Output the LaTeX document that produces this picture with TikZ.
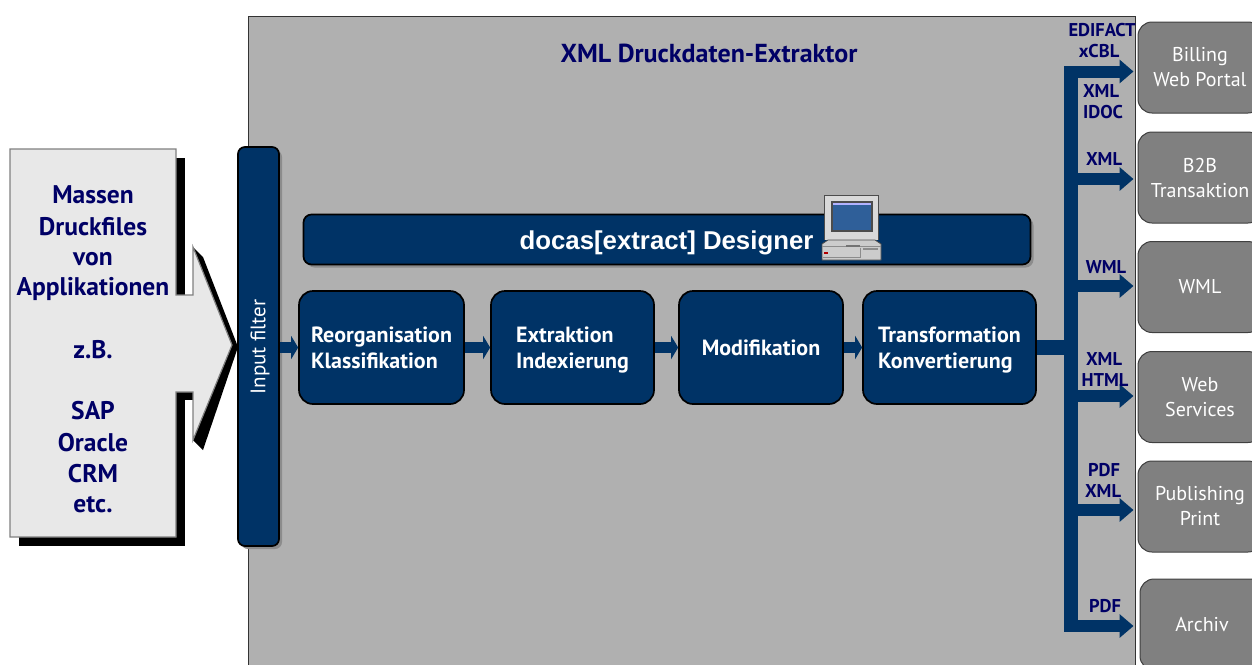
\documentclass[tikz,border=0pt]{standalone}
\usepackage{fontspec}
\setmainfont{PT Sans}
\newfontfamily\arialf{Liberation Sans}
\usetikzlibrary{arrows.meta,shadows,calc}
\definecolor{navyfill}{HTML}{003366}
\definecolor{navytext}{HTML}{000066}
\definecolor{framegray}{HTML}{B0B0B0}
\definecolor{boxgray}{HTML}{808080}
\definecolor{paperlight}{HTML}{E8E8E8}
\definecolor{screenblue}{HTML}{2F5F99}
\newcommand{\fsz}[2]{\fontsize{#1}{#2}\selectfont}
\newcommand{\ls}{\rule[-5.5pt]{0pt}{26pt}}
\tikzset{
  softshadow/.style={drop shadow={shadow xshift=3pt,shadow yshift=-3pt,fill=black!45,opacity=1}},
  navybox/.style={draw=black,line width=1.7pt,fill=navyfill,text=white,inner sep=0pt,
     rounded corners=14pt,align=left,font=\fsz{22}{26}\bfseries},
  outbox/.style={draw=black!75,line width=1pt,fill=boxgray,text=white,inner sep=0pt,
     rounded corners=14pt,minimum width=124pt,minimum height=91pt,align=center,font=\fsz{20}{25}},
  fmtlabel/.style={text=navytext,inner sep=0pt,font=\fsz{18.5}{20}\bfseries},
  leftlabel/.style={text=navytext,inner sep=0pt,font=\fsz{25.5}{28}\bfseries},
  smallflow/.style={draw=navyfill,line width=11pt,-{Triangle[length=7pt,width=23pt]}},
  busflow/.style={draw=navyfill,line width=12pt,-{Triangle[length=14pt,width=23pt]},shorten >=4pt},
}
\begin{document}
\begin{tikzpicture}[x=1pt,y=-1pt]
\useasboundingbox (0,0) rectangle (1252,664);
\clip (0,0) rectangle (1252,664);
% main frame
\draw[draw=black!80,line width=1pt,fill=framegray] (248,16) rectangle (1135,680);
% left document shadow
\fill[black] (176,158) rectangle (185,297);
\fill[black] (193,247) -- (203,257) -- (238,347) -- (203,450) -- (193,440) -- cycle;
\fill[black] (176,392) rectangle (193,400);
\fill[black] (176,400) rectangle (185,546);
\fill[black] (19,537) rectangle (185,546);
% left document
\draw[draw=black!50,line width=1.2pt,fill=paperlight]
  (10,149) -- (176,149) -- (176,295) -- (193,295) -- (193,247) -- (232,345)
  -- (193,440) -- (193,392) -- (176,392) -- (176,537) -- (10,537) -- cycle;
\node[leftlabel] (l1) at (93,195) {Massen};
\node[leftlabel] (l2) at (93,227) {Druckfiles};
\node[leftlabel] (l3) at (93,259) {von};
\node[leftlabel] (l4) at (93,289) {Applikationen};
\node[leftlabel] (l5) at (93,350) {z.B.};
\node[leftlabel] (l6) at (93,411) {SAP};
\node[leftlabel] (l7) at (93,443) {Oracle};
\node[leftlabel] (l8) at (93,474) {CRM};
\node[leftlabel] (l9) at (93,505) {etc.};
% title
\node[text=navytext,inner sep=0pt,font=\fsz{26}{28}\bfseries] (title) at (709,53) {XML Druckdaten-Extraktor};
% input filter
\node[draw=black,line width=1.7pt,fill=navyfill,rounded corners=7pt,minimum width=41pt,minimum height=399pt,inner sep=0pt,softshadow] (filter) at (258.5,346.5) {};
\node[rotate=90,text=white,inner sep=0pt,font=\fsz{21}{22}] (filtertext) at (260,347) {Input filter};
% designer bar
\node[navybox,rounded corners=8pt,minimum width=727pt,minimum height=50pt,softshadow] (designer) at (667,239.5) {};
\node[text=white,inner sep=0pt,font=\arialf\fsz{25.8}{28}\bfseries] (designertext) at (666.5,243) {docas[extract] Designer};
% steps
\node[navybox,minimum width=165pt,minimum height=113pt] (s1) at (381.5,347.5) {\ls Reorganisation\\\ls Klassifikation};
\node[navybox,minimum width=163pt,minimum height=113pt] (s2) at (572.5,347.5) {\ls Extraktion\\\ls Indexierung};
\node[navybox,minimum width=164pt,minimum height=113pt] (s3) at (761,347.5) {\ls Modifikation};
\node[navybox,minimum width=173pt,minimum height=113pt] (s4) at (949.5,347.5) {\ls Transformation\\\ls Konvertierung};
% flows
\draw[smallflow] (filter.east |- s1.west) -- (s1.west);
\draw[smallflow] (s1.east) -- (s2.west);
\draw[smallflow] (s2.east) -- (s3.west);
\draw[smallflow] (s3.east) -- (s4.west);
% output boxes
\node[outbox] (o1) at (1200,67.5) {Billing\\Web Portal};
\node[outbox] (o2) at (1200,177.5) {B2B\\Transaktion};
\node[outbox] (o3) at (1200,287) {WML};
\node[outbox] (o4) at (1200,397) {Web\\Services};
\node[outbox] (o5) at (1200,506.5) {Publishing\\Print};
\node[outbox,minimum height=91pt] (o6) at (1202,624.5) {Archiv};
% bus
\coordinate (bustop) at (1071,66);
\coordinate (busbottom) at (1071,632);
\draw[draw=navyfill,line width=14pt] (bustop) -- (busbottom);
\draw[draw=navyfill,line width=15pt] (s4.east) -- (s4.east -| bustop);
\coordinate (j1) at (1064,71.5);
\coordinate (j2) at (1071,179);
\coordinate (j3) at (1071,286);
\coordinate (j4) at (1071,396);
\coordinate (j5) at (1071,510);
\coordinate (j6) at (1064,626);
\draw[busflow] (j1) -- (j1 -| o1.west);
\draw[busflow] (j2) -- (j2 -| o2.west);
\draw[busflow] (j3) -- (j3 -| o3.west);
\draw[busflow] (j4) -- (j4 -| o4.west);
\draw[busflow] (j5) -- (j5 -| o5.west);
\draw[busflow] (j6) -- (j6 -| o5.west);
% format labels
\node[fmtlabel] (f1) at (1102,30) {EDIFACT};
\node[fmtlabel] (f2) at (1099,51) {xCBL};
\node[fmtlabel] (f3) at (1101,91) {XML};
\node[fmtlabel] (f4) at (1103,112) {IDOC};
\node[fmtlabel] (f5) at (1104,159) {XML};
\node[fmtlabel] (f6) at (1106,267) {WML};
\node[fmtlabel] (f7) at (1104,359) {XML};
\node[fmtlabel] (f8) at (1105,380) {HTML};
\node[fmtlabel] (f9) at (1104,470) {PDF};
\node[fmtlabel] (f10) at (1103,491) {XML};
\node[fmtlabel] (f11) at (1105,606) {PDF};
% computer icon
\fill[black!70] (824,195) rectangle (879,240);
\fill[black!15] (825,196) rectangle (878,240);
\fill[black!70] (831,201) rectangle (873,232);
\fill[screenblue] (833,203) rectangle (871,230);
\fill[white!70!blue] (833,203) rectangle (871,204.5);
\draw[black!70,line width=.8pt,fill=black!20] (828,240) -- (875,240) -- (881,244) -- (881,260) -- (822,260) -- (822,244) -- cycle;
\draw[black!45,line width=.8pt] (822,246) -- (881,246);
\fill[black!55] (846,245) rectangle (860,247);
\draw[black!45,line width=.8pt] (823,257) -- (860,257) -- (860,248);
\fill[red!70!black] (824,252) rectangle (828,254);
\fill[black!45] (863,248) rectangle (878,250);
\end{tikzpicture}
\end{document}
